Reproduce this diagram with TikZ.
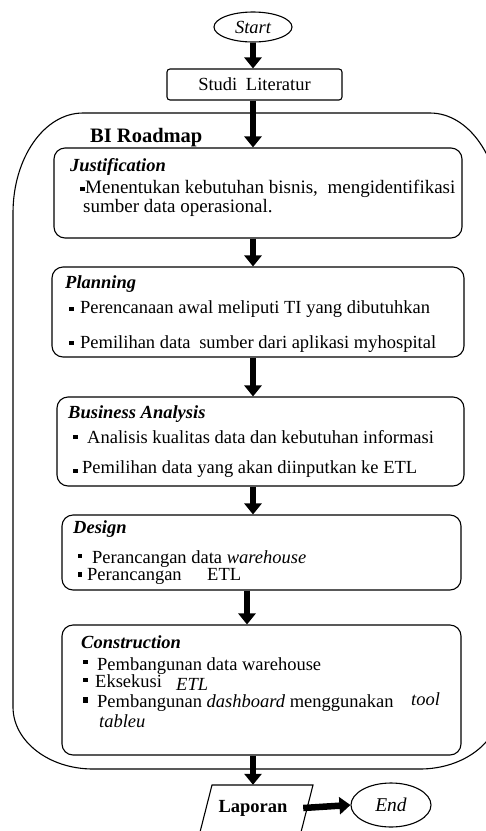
\documentclass[tikz,border=0pt]{standalone}
\usepackage{fontspec}
\setmainfont{Liberation Serif}
\usetikzlibrary{shapes.geometric,arrows.meta}
\begin{document}
\begin{tikzpicture}[x=1pt,y=-1pt,
  every node/.style={font=\fontsize{18.5}{15}\selectfont},
  box/.style={draw, rounded corners=11pt, line width=1.1pt, inner sep=0pt},
  bigarrow/.style={line width=6.5pt, -{Triangle[width=17pt,length=11pt]}},
  txt/.style={anchor=base west, inner sep=0pt},
  ttl/.style={anchor=base west, inner sep=0pt, font=\fontsize{18.5}{15}\selectfont\bfseries\itshape}
]
\clip (0,0) rectangle (486,831);
\fill[white] (0,0) rectangle (486,831);
\coordinate (ax) at (253,0);
\coordinate (bx) at (247,0);

% BI Roadmap container
\draw[line width=1.1pt] (13,213) .. controls (13,157.8) and (44.3,113) .. (83,113)
  -- (430,113) .. controls (468.7,113) and (500,157.8) .. (500,213)
  -- (500,707) .. controls (500,741.2) and (464.2,769) .. (420,769)
  -- (93,769) .. controls (48.8,769) and (13,741.2) .. (13,707) -- cycle;
\node[txt, font=\fontsize{20.5}{16}\selectfont\bfseries] (bir) at (90,142) {BI Roadmap};

% nodes
\node[draw, ellipse, line width=1.1pt, minimum width=78pt, minimum height=30pt, inner sep=0pt, font=\fontsize{18.5}{15}\selectfont\itshape] (start) at (253,27) {Start};
\node[draw, rounded corners=3pt, line width=1.1pt, minimum width=175pt, minimum height=31pt, inner sep=0pt] (studi) at (254.5,84.5) {Studi\hspace{4pt} Literatur};
\node[box, minimum width=408pt, minimum height=90pt] (just) at (258,193) {};
\node[box, minimum width=412pt, minimum height=90pt] (plan) at (258,312) {};
\node[box, minimum width=407pt, minimum height=89pt] (bus) at (260.5,441.5) {};
\node[box, minimum width=399pt, minimum height=75pt] (des) at (261.5,552.5) {};
\node[box, minimum width=399pt, minimum height=130pt] (cons) at (261.5,690) {};
\draw[line width=1.1pt] (198,840) -- (212,785) -- (313,785) -- (299,840);
\node[inner sep=0pt, minimum width=100pt, minimum height=46pt, font=\fontsize{18.5}{15}\selectfont\bfseries] (lap) at (253,808) {Laporan};
\node[draw, ellipse, line width=1.1pt, minimum width=80pt, minimum height=44pt, inner sep=0pt, font=\fontsize{19.5}{15}\selectfont\itshape] (end) at (391,805) {End};

% arrows
\draw[bigarrow] (start.south) -- (studi.north -| ax);
\draw[bigarrow] (studi.south -| ax) -- (just.north -| ax);
\draw[bigarrow] (just.south -| ax) -- (plan.north -| ax);
\draw[bigarrow] (plan.south -| ax) -- (bus.north -| ax);
\draw[bigarrow] (bus.south -| ax) -- (des.north -| ax);
\draw[bigarrow] (des.south -| bx) -- (cons.north -| bx);
\draw[bigarrow] (cons.south -| lap.north) -- (lap.north);
\draw[bigarrow] (lap.east) -- (end.west);

% Justification
\node[ttl] (t1) at (70,171) {Justification};
\fill (82.5,189) ++(-2.3,-2.3) rectangle ++(4.6,4.6);
\node[txt, font=\fontsize{19}{15}\selectfont] (t2) at (85,193) {Menentukan kebutuhan bisnis,\hspace{5pt} mengidentifikasi};
\node[txt, font=\fontsize{19}{15}\selectfont] (t3) at (83,212) {sumber data operasional.};

% Planning
\node[ttl] (t4) at (65,288) {Planning};
\fill (71.5,309) ++(-2.3,-2.3) rectangle ++(4.6,4.6);
\node[txt] (t5) at (80,313) {Perencanaan awal meliputi TI yang dibutuhkan};
\fill (71.5,343) ++(-2.3,-2.3) rectangle ++(4.6,4.6);
\node[txt] (t6) at (80,348) {Pemilihan data\hspace{4pt} sumber dari aplikasi myhospital};

% Business Analysis
\node[ttl] (t7) at (68,418) {Business Analysis};
\fill (75.5,437) ++(-2.3,-2.3) rectangle ++(4.6,4.6);
\node[txt] (t8) at (87,443) {Analisis kualitas data dan kebutuhan informasi};
\fill (75.5,471) ++(-2.3,-2.3) rectangle ++(4.6,4.6);
\node[txt] (t9) at (82,473) {Pemilihan data yang akan diinputkan ke ETL};

% Design
\node[ttl] (t10) at (73,533) {Design};
\fill (80,556) ++(-2.3,-2.3) rectangle ++(4.6,4.6);
\node[txt] (t11) at (92,563) {Perancangan data \textit{warehouse}};
\fill (80,574.5) ++(-2.3,-2.3) rectangle ++(4.6,4.6);
\node[txt] (t12) at (87,580) {Perancangan};
\node[txt] (t13) at (207,580) {ETL};

% Construction
\node[ttl] (t14) at (81,648) {Construction};
\fill (85.5,662) ++(-2.3,-2.3) rectangle ++(4.6,4.6);
\node[txt] (t15) at (97,670) {Pembangunan data warehouse};
\fill (85.5,680) ++(-2.3,-2.3) rectangle ++(4.6,4.6);
\node[txt] (t16) at (95,687) {Eksekusi};
\node[txt, font=\fontsize{18.5}{15}\selectfont\itshape] (t17) at (176,690) {ETL};
\fill (85.5,700) ++(-2.3,-2.8) rectangle ++(4.6,5.6);
\node[txt] (t18) at (97,707) {Pembangunan \textit{dashboard} menggunakan};
\node[txt, font=\fontsize{18.5}{15}\selectfont\itshape] (t19) at (411,705) {tool};
\node[txt, font=\fontsize{18.5}{15}\selectfont\itshape] (t20) at (99,727) {tableu};
\end{tikzpicture}
\end{document}
